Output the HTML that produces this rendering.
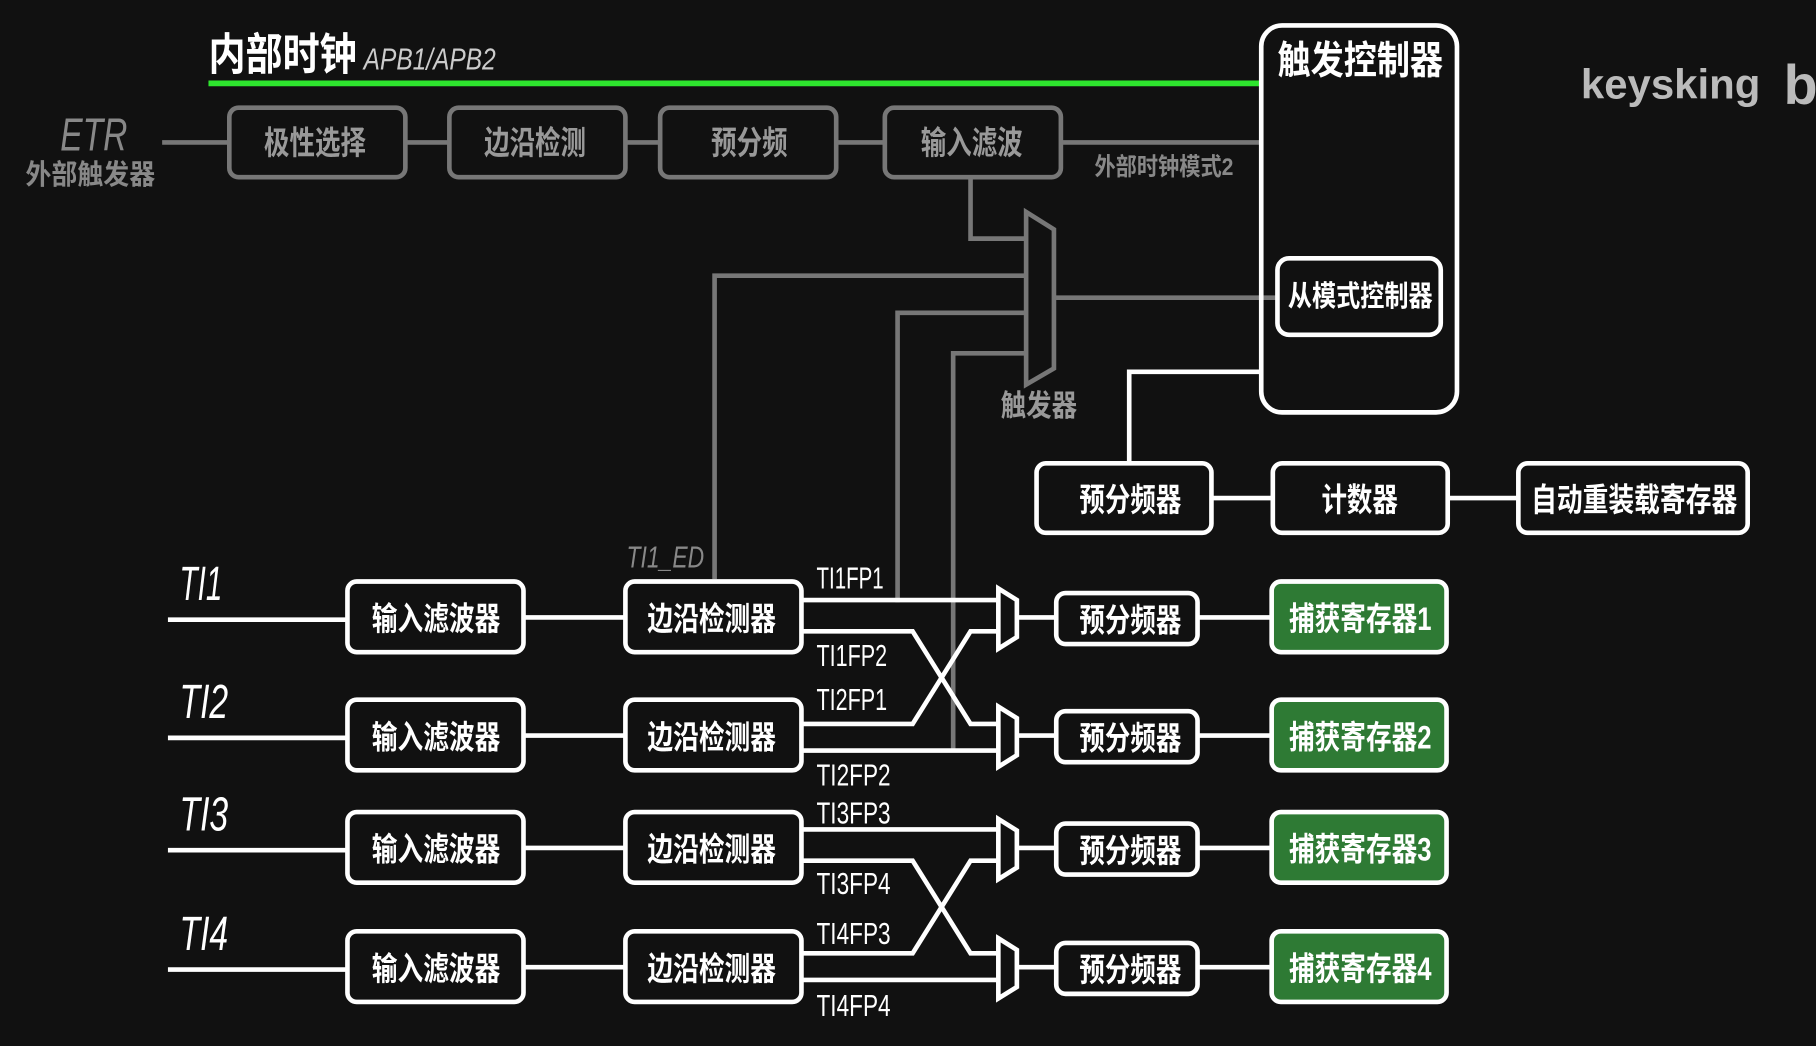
<!DOCTYPE html>
<html><head><meta charset="utf-8"><style>
html,body{margin:0;padding:0;background:#111;}
svg{display:block}
text{font-family:"Liberation Sans","Noto Sans CJK SC",sans-serif;}
.cn{font-family:"Liberation Sans","Noto Sans CJK SC",sans-serif;font-weight:bold;}
</style></head><body>
<svg width="1816" height="1046" viewBox="0 0 1568 903" preserveAspectRatio="none" xmlns="http://www.w3.org/2000/svg">
<rect width="1568" height="903" fill="#111"/>
<text x="180" y="60" class="cn" font-size="38" fill="#fff" textLength="128" lengthAdjust="spacingAndGlyphs">内部时钟</text>
<text x="314" y="60" font-size="26" fill="#ccc" font-style="italic" textLength="114" lengthAdjust="spacingAndGlyphs">APB1/APB2</text>
<line x1="180" y1="72" x2="1090" y2="72" stroke="#2ee62e" stroke-width="5"/>
<text x="52" y="130" font-size="40" fill="#888" font-style="italic" textLength="58" lengthAdjust="spacingAndGlyphs">ETR</text>
<text x="22" y="159" class="cn" font-size="24" fill="#888" font-weight="normal" textLength="112" lengthAdjust="spacingAndGlyphs">外部触发器</text>
<g stroke="#777" stroke-width="4" fill="none">
<line x1="140" y1="123" x2="1090" y2="123"/>
<polyline points="838,153 838,206 886,206"/>
<polyline points="617,500 617,238 886,238"/>
<polyline points="775,520 775,270 886,270"/>
<polyline points="823,648 823,305 886,305"/>
<line x1="910" y1="257" x2="1103" y2="257"/>
<polygon points="886,183 910,198 910,318 886,332" fill="#111"/>
</g>
<g stroke="#777" stroke-width="4" fill="#111">
<rect x="198" y="93" width="152" height="60" rx="8"/>
<rect x="388" y="93" width="152" height="60" rx="8"/>
<rect x="570" y="93" width="152" height="60" rx="8"/>
<rect x="764" y="93" width="152" height="60" rx="8"/>
</g>
<g class="cn" font-size="28" fill="#999" font-weight="normal" lengthAdjust="spacingAndGlyphs">
<text x="228" y="133" textLength="88" lengthAdjust="spacingAndGlyphs">极性选择</text>
<text x="418" y="133" textLength="88" lengthAdjust="spacingAndGlyphs">边沿检测</text>
<text x="614" y="133" textLength="66" lengthAdjust="spacingAndGlyphs">预分频</text>
<text x="795" y="133" textLength="88" lengthAdjust="spacingAndGlyphs">输入滤波</text>
<text x="864" y="359" font-size="26" textLength="66" lengthAdjust="spacingAndGlyphs">触发器</text>
</g>
<text x="945" y="151" class="cn" font-size="21" fill="#888" font-weight="normal" textLength="120" lengthAdjust="spacingAndGlyphs">外部时钟模式2</text>
<text x="541" y="490" font-size="26" fill="#888" font-style="italic" textLength="67" lengthAdjust="spacingAndGlyphs">TI1_ED</text>
<rect x="1089" y="22" width="169" height="334" rx="18" fill="none" stroke="#fff" stroke-width="4"/>
<text x="1103" y="64" class="cn" font-size="34" fill="#fff" textLength="143" lengthAdjust="spacingAndGlyphs">触发控制器</text>
<rect x="1103" y="223" width="141" height="66" rx="10" fill="#111" stroke="#fff" stroke-width="4"/>
<text x="1112" y="264" class="cn" font-size="25" fill="#fff" textLength="125" lengthAdjust="spacingAndGlyphs">从模式控制器</text>
<text x="1365" y="85" font-size="36" fill="#bbb" font-weight="bold" textLength="155" lengthAdjust="spacingAndGlyphs">keysking</text>
<text x="1540" y="90" font-size="48" fill="#bbb" font-weight="bold">b</text>
<g stroke="#fff" stroke-width="4" fill="none">
<polyline points="1089,321 975,321 975,400"/>
<line x1="1046" y1="430" x2="1311" y2="430"/>
</g>
<g stroke="#fff" stroke-width="4" fill="#111">
<rect x="895" y="400" width="151" height="60" rx="8"/>
<rect x="1099" y="400" width="151" height="60" rx="8"/>
<rect x="1311" y="400" width="198" height="60" rx="8"/>
</g>
<g class="cn" font-size="28" fill="#fff">
<text x="932" y="441" textLength="88" lengthAdjust="spacingAndGlyphs">预分频器</text>
<text x="1141" y="441" textLength="66" lengthAdjust="spacingAndGlyphs">计数器</text>
<text x="1322" y="441" textLength="178" lengthAdjust="spacingAndGlyphs">自动重装载寄存器</text>
</g>
<g stroke="#fff" stroke-width="4" fill="none">
<line x1="145" y1="535" x2="300" y2="535"/><line x1="145" y1="637" x2="300" y2="637"/>
<line x1="145" y1="734" x2="300" y2="734"/><line x1="145" y1="837" x2="300" y2="837"/>
<line x1="452" y1="533" x2="540" y2="533"/><line x1="452" y1="635" x2="540" y2="635"/>
<line x1="452" y1="732" x2="540" y2="732"/><line x1="452" y1="835" x2="540" y2="835"/>
<line x1="692" y1="518" x2="862" y2="518"/>
<polyline points="692,545 788,545 838,625 862,625"/>
<polyline points="692,625 788,625 838,545 862,545"/>
<line x1="692" y1="648" x2="862" y2="648"/>
<line x1="692" y1="716" x2="862" y2="716"/>
<polyline points="692,743 788,743 838,823 862,823"/>
<polyline points="692,823 788,823 838,743 862,743"/>
<line x1="692" y1="846" x2="862" y2="846"/>
<line x1="878" y1="533" x2="1098" y2="533"/><line x1="878" y1="635" x2="1098" y2="635"/>
<line x1="878" y1="732" x2="1098" y2="732"/><line x1="878" y1="835" x2="1098" y2="835"/>
<polygon points="862,508 878,518 878,550 862,560" fill="#111"/>
<polygon points="862,610 878,620 878,652 862,662" fill="#111"/>
<polygon points="862,707 878,717 878,749 862,759" fill="#111"/>
<polygon points="862,810 878,820 878,852 862,862" fill="#111"/>
</g>
<g stroke="#fff" stroke-width="4" fill="#111">
<rect x="300" y="502" width="152" height="61" rx="8"/><rect x="540" y="502" width="152" height="61" rx="8"/>
<rect x="300" y="604" width="152" height="61" rx="8"/><rect x="540" y="604" width="152" height="61" rx="8"/>
<rect x="300" y="701" width="152" height="61" rx="8"/><rect x="540" y="701" width="152" height="61" rx="8"/>
<rect x="300" y="804" width="152" height="61" rx="8"/><rect x="540" y="804" width="152" height="61" rx="8"/>
<rect x="912" y="512" width="122" height="44" rx="8"/><rect x="912" y="614" width="122" height="44" rx="8"/>
<rect x="912" y="711" width="122" height="44" rx="8"/><rect x="912" y="814" width="122" height="44" rx="8"/>
</g>
<g stroke="#fff" stroke-width="4" fill="#2e7a34">
<rect x="1098" y="502" width="151" height="61" rx="8"/><rect x="1098" y="604" width="151" height="61" rx="8"/>
<rect x="1098" y="701" width="151" height="61" rx="8"/><rect x="1098" y="804" width="151" height="61" rx="8"/>
</g>
<g font-size="42" fill="#fff" font-style="italic">
<text x="155" y="518" textLength="37" lengthAdjust="spacingAndGlyphs">TI1</text>
<text x="155" y="620" textLength="42" lengthAdjust="spacingAndGlyphs">TI2</text>
<text x="155" y="717" textLength="42" lengthAdjust="spacingAndGlyphs">TI3</text>
<text x="155" y="820" textLength="42" lengthAdjust="spacingAndGlyphs">TI4</text>
</g>
<g class="cn" font-size="28" fill="#fff">
<text x="321" y="544" textLength="111" lengthAdjust="spacingAndGlyphs">输入滤波器</text><text x="559" y="544" textLength="111" lengthAdjust="spacingAndGlyphs">边沿检测器</text>
<text x="321" y="646" textLength="111" lengthAdjust="spacingAndGlyphs">输入滤波器</text><text x="559" y="646" textLength="111" lengthAdjust="spacingAndGlyphs">边沿检测器</text>
<text x="321" y="743" textLength="111" lengthAdjust="spacingAndGlyphs">输入滤波器</text><text x="559" y="743" textLength="111" lengthAdjust="spacingAndGlyphs">边沿检测器</text>
<text x="321" y="846" textLength="111" lengthAdjust="spacingAndGlyphs">输入滤波器</text><text x="559" y="846" textLength="111" lengthAdjust="spacingAndGlyphs">边沿检测器</text>
<text x="932" y="545" textLength="88" lengthAdjust="spacingAndGlyphs">预分频器</text><text x="932" y="647" textLength="88" lengthAdjust="spacingAndGlyphs">预分频器</text>
<text x="932" y="744" textLength="88" lengthAdjust="spacingAndGlyphs">预分频器</text><text x="932" y="847" textLength="88" lengthAdjust="spacingAndGlyphs">预分频器</text>
<text x="1113" y="544" textLength="123" lengthAdjust="spacingAndGlyphs">捕获寄存器1</text><text x="1113" y="646" textLength="123" lengthAdjust="spacingAndGlyphs">捕获寄存器2</text>
<text x="1113" y="743" textLength="123" lengthAdjust="spacingAndGlyphs">捕获寄存器3</text><text x="1113" y="846" textLength="123" lengthAdjust="spacingAndGlyphs">捕获寄存器4</text>
</g>
<g font-size="26" fill="#fff">
<text x="705" y="508" textLength="58" lengthAdjust="spacingAndGlyphs">TI1FP1</text><text x="705" y="575" textLength="61" lengthAdjust="spacingAndGlyphs">TI1FP2</text>
<text x="705" y="613" textLength="61" lengthAdjust="spacingAndGlyphs">TI2FP1</text><text x="705" y="678" textLength="64" lengthAdjust="spacingAndGlyphs">TI2FP2</text>
<text x="705" y="711" textLength="64" lengthAdjust="spacingAndGlyphs">TI3FP3</text><text x="705" y="772" textLength="64" lengthAdjust="spacingAndGlyphs">TI3FP4</text>
<text x="705" y="815" textLength="64" lengthAdjust="spacingAndGlyphs">TI4FP3</text><text x="705" y="877" textLength="64" lengthAdjust="spacingAndGlyphs">TI4FP4</text>
</g>
</svg>
</body></html>
